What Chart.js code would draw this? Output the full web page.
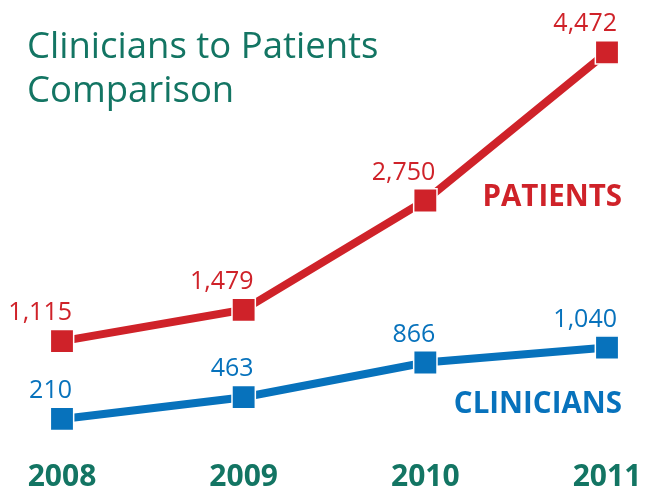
<!DOCTYPE html>
<html>
<head>
<meta charset="utf-8">
<script src="https://cdn.jsdelivr.net/npm/chart.js@4.4.1/dist/chart.umd.min.js"></script>
<style>
  body { margin: 0; background: #fff; }
  canvas { display: block; }
</style>
</head>
<body>
<canvas id="myChart" width="646" height="491"></canvas>
<script>
// data
const years = ["2008", "2009", "2010", "2011"];
const patients = [1115, 1479, 2750, 4472];
const clinicians = [210, 463, 866, 1040];

const red = '#cf2229';
const blue = '#0772bc';
const green = '#137563';
const fontName = '"Open Sans", sans-serif';

// title + series names + value labels
const textPlugin = {
  id: 'texts',
  afterDatasetsDraw(chart) {
    const ctx = chart.ctx;
    ctx.save();
    ctx.fillStyle = green;
    ctx.font = '36.5px ' + fontName;
    ctx.textAlign = 'left';
    ctx.textBaseline = 'alphabetic';
    ctx.fillText('Clinicians to Patients', 27, 58);
    ctx.fillText('Comparison', 27, 102);

    // value labels
    ctx.font = '25px ' + fontName;
    ctx.textAlign = 'right';
    chart.data.datasets.forEach((ds, i) => {
      const meta = chart.getDatasetMeta(i);
      ctx.fillStyle = ds.borderColor;
      meta.data.forEach((pt, j) => {
        ctx.fillText(ds.data[j].toLocaleString('en-US'), pt.x + 10, pt.y - 21);
      });
    });

    // series names
    ctx.font = 'bold 29.5px ' + fontName;
    ctx.fillStyle = red;
    ctx.fillText('PATIENTS', 622, 206);
    ctx.fillStyle = blue;
    ctx.fillText('CLINICIANS', 622, 413);
    ctx.restore();
  }
};

let chart = new Chart(document.getElementById('myChart').getContext('2d'), {
  type: 'line',
  data: {
    labels: years,
    datasets: [
      {
        label: 'Patients',
        data: patients,
        borderColor: red,
        backgroundColor: red,
        borderWidth: 8,
        pointStyle: 'rect',
        pointRadius: 16.5,
        pointBorderColor: '#ffffff',
        pointBorderWidth: 1.5,
        tension: 0
      },
      {
        label: 'Clinicians',
        data: clinicians,
        borderColor: blue,
        backgroundColor: blue,
        borderWidth: 8,
        pointStyle: 'rect',
        pointRadius: 16.5,
        pointBorderColor: '#ffffff',
        pointBorderWidth: 1.5,
        tension: 0
      }
    ]
  },
  options: {
    responsive: false,
    animation: false,
    layout: {
      autoPadding: false,
      padding: { left: 62, right: 39, top: 7, bottom: -26 }
    },
    plugins: {
      legend: { display: false },
      tooltip: { enabled: false }
    },
    scales: {
      x: {
        offset: false,
        grid: { display: false, drawTicks: false },
        border: { display: false },
        // year labels may hang past the edge points, no extra room for them
        afterFit(scale) {
          scale.paddingLeft = 0;
          scale.paddingRight = 0;
        },
        ticks: {
          color: green,
          padding: 25,
          maxRotation: 0,
          autoSkip: false,
          font: { family: fontName, size: 30, weight: 'bold', lineHeight: 1 }
        }
      },
      y: {
        display: false,
        min: 0,
        max: 5000
      }
    }
  },
  plugins: [textPlugin]
});
</script>
</body>
</html>
